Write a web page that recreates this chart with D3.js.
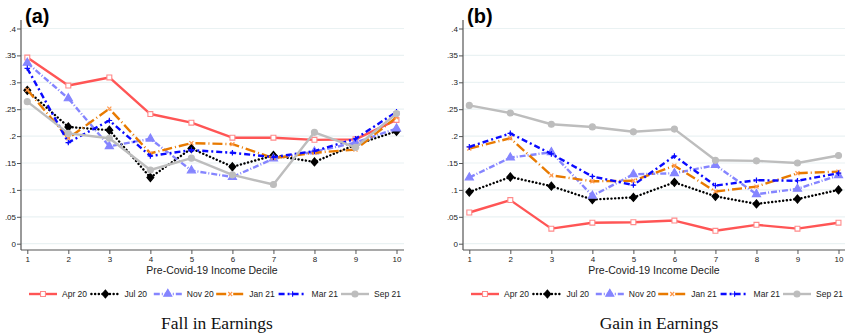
<!DOCTYPE html>
<html>
<head>
<meta charset="utf-8">
<script src="https://cdn.jsdelivr.net/npm/d3@7"></script>
<style>
body{margin:0;background:#fff}
svg{display:block}
</style>
</head>
<body>
<svg id="chart" width="845" height="335"></svg>
<script>
var deciles = [1,2,3,4,5,6,7,8,9,10]
var yTicks = [0,.05,.1,.15,.2,.25,.3,.35,.4]
var yTickLabels = ["0",".05",".1",".15",".2",".25",".3",".35",".4"]
var seriesNames = ["Apr 20","Jul 20","Nov 20","Jan 21","Mar 21","Sep 21"]
var panelLabels = ["(a)","(b)"]
var panelTitles = ["Fall in Earnings","Gain in Earnings"]
var xTitle = "Pre-Covid-19 Income Decile"

// fall in earnings
var fallApr20 = [.346,.294,.309,.241,.225,.197,.197,.193,.194,.230]
var fallJul20 = [.285,.217,.211,.123,.177,.143,.164,.152,.184,.209]
var fallNov20 = [.336,.270,.181,.195,.136,.124,.158,.171,.188,.214]
var fallJan21 = [.286,.196,.251,.168,.187,.185,.159,.169,.175,.235]
var fallMar21 = [.326,.188,.229,.163,.174,.169,.161,.172,.195,.245]
var fallSep21 = [.264,.205,.196,.137,.159,.128,.110,.207,.179,.242]

// gain in earnings
var gainApr20 = [.058,.081,.028,.039,.040,.043,.024,.035,.028,.039]
var gainJul20 = [.096,.124,.107,.082,.086,.114,.088,.074,.083,.100]
var gainNov20 = [.123,.160,.170,.089,.129,.131,.146,.092,.102,.127]
var gainJan21 = [.177,.196,.127,.116,.117,.145,.097,.106,.131,.134]
var gainMar21 = [.180,.205,.167,.125,.109,.163,.108,.118,.117,.131]
var gainSep21 = [.257,.243,.222,.217,.208,.213,.155,.154,.150,.164]

var styles = [
  {color:"#ff5555",dash:null,cap:"butt",marker:"square",mfill:"#fff",mstroke:"#ff8a8a"},
  {color:"#000000",dash:"0.1,3.6",cap:"round",marker:"diamond",mfill:"#000",mstroke:"#000"},
  {color:"#8585ff",dash:"6,2,1,2",cap:"butt",marker:"triangle",mfill:"#8585ff",mstroke:"#8585ff"},
  {color:"#e87a00",dash:"10,3,1,3",cap:"butt",marker:"cross",mfill:"none",mstroke:"#ff9a50"},
  {color:"#0a0aff",dash:"6,3,2,3",cap:"butt",marker:"plus",mfill:"none",mstroke:"#0a0aff"},
  {color:"#bdbdbd",dash:null,cap:"butt",marker:"circle",mfill:"#bdbdbd",mstroke:"#bdbdbd"}
]

var svg = d3.select("#chart")

function markerPath(type){
  if(type==="square") return d3.symbol(d3.symbolSquare,24)()
  if(type==="diamond") return "M0,-4L3.4,0L0,4L-3.4,0Z"
  if(type==="triangle") return d3.symbol(d3.symbolTriangle,28)()
  if(type==="cross") return "M-2,-2L2,2M-2,2L2,-2"
  if(type==="plus") return "M-2.8,0L2.8,0M0,-2.8L0,2.8"
  return d3.symbol(d3.symbolCircle,28)()
}

function drawPanel(offset,seriesList,idx){
  var g = svg.append("g").attr("transform",`translate(${offset},0)`)
  var x = d3.scaleLinear().domain([1,10]).range([27.3,396.5])
  var y = d3.scaleLinear().domain([0,.4]).range([243.7,28.5])

  // grid
  g.selectAll(".grid").data(yTicks).enter()
   .append("line")
   .attr("x1",21).attr("x2",404)
   .attr("y1",d=>y(d)).attr("y2",d=>y(d))
   .attr("stroke","#eaf2f3").attr("stroke-width",1.2)

  var yAxis = d3.axisLeft(y).tickValues(yTicks).tickSize(4).tickSizeOuter(0)
                .tickFormat((d,i)=>yTickLabels[i])
  var ya = g.append("g").attr("transform","translate(21,0)").call(yAxis)
  ya.select(".domain").attr("d","M0,20V250").attr("stroke","#555").attr("stroke-width",1.2)

  var xAxis = d3.axisBottom(x).tickValues(deciles).tickSize(4).tickSizeOuter(0)
  var xa = g.append("g").attr("transform","translate(0,250)").call(xAxis)
  xa.select(".domain").attr("d","M21,0H404").attr("stroke","#555").attr("stroke-width",1.2)

  g.selectAll(".tick line").attr("stroke","#555")
  g.selectAll(".tick text").attr("font-family","Liberation Sans, Arial, sans-serif")
   .attr("font-size","8px").attr("fill","#222")
  ya.selectAll(".tick text").attr("x",-5)
  xa.selectAll(".tick text").attr("y",6)

  g.append("text").attr("x",212).attr("y",274)
   .attr("text-anchor","middle")
   .attr("font-family","Liberation Sans, Arial, sans-serif")
   .attr("font-size","10.5px").attr("fill","#222")
   .text(xTitle)

  g.append("text").attr("x",25).attr("y",23)
   .attr("font-family","Liberation Sans, Arial, sans-serif")
   .attr("font-weight","bold").attr("font-size","20px")
   .text(panelLabels[idx])

  var line = d3.line().x((d,i)=>x(deciles[i])).y(d=>y(d))
  seriesList.forEach((vals,s)=>{
    var st = styles[s]
    g.append("path").datum(vals)
     .attr("d",line).attr("fill","none")
     .attr("stroke",st.color).attr("stroke-width",2.4)
     .attr("stroke-linejoin","round")
     .attr("stroke-linecap",st.cap)
     .attr("stroke-dasharray",st.dash)
    g.selectAll(".m"+s).data(vals).enter()
     .append("path")
     .attr("transform",(d,i)=>`translate(${x(deciles[i])},${y(d)})`)
     .attr("d",markerPath(st.marker))
     .attr("fill",st.mfill)
     .attr("stroke",st.mstroke).attr("stroke-width",st.marker==="square"?1.1:1.2)
  })

  // legend
  var lg = g.append("g").attr("transform","translate(29,294)")
  seriesNames.forEach((name,s)=>{
    var st = styles[s]
    var item = lg.append("g").attr("transform",`translate(${s*62.4},0)`)
    item.append("line").attr("x1",0).attr("x2",28).attr("y1",0).attr("y2",0)
        .attr("stroke",st.color).attr("stroke-width",2.4)
        .attr("stroke-linecap",st.cap)
        .attr("stroke-dasharray",st.dash)
    item.append("path").attr("transform","translate(14,0)")
        .attr("d",markerPath(st.marker))
        .attr("fill",st.mfill)
        .attr("stroke",st.mstroke).attr("stroke-width",1.1)
    item.append("text").attr("x",33).attr("y",3)
        .attr("font-family","Liberation Sans Narrow, Liberation Sans, Arial, sans-serif")
        .attr("font-size","8.5px").attr("fill","#222")
        .text(name)
  })

  g.append("text").attr("x",217).attr("y",329)
   .attr("text-anchor","middle")
   .attr("font-family","Liberation Serif, DejaVu Serif, serif")
   .attr("font-size","17.5px").attr("fill","#111")
   .text(panelTitles[idx])
}

drawPanel(0,[fallApr20,fallJul20,fallNov20,fallJan21,fallMar21,fallSep21],0)
drawPanel(442,[gainApr20,gainJul20,gainNov20,gainJan21,gainMar21,gainSep21],1)
</script>
</body>
</html>
